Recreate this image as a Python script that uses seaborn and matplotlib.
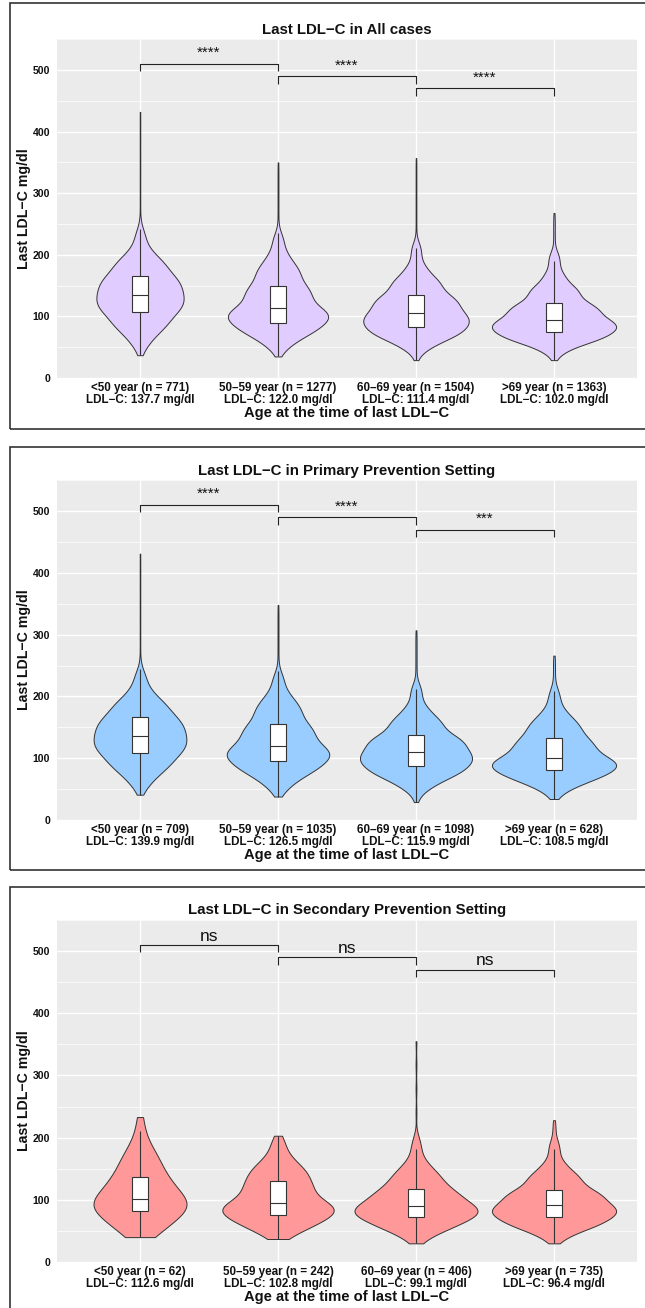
import numpy as np
import pandas as pd
import matplotlib
matplotlib.use("Agg")
import matplotlib.pyplot as plt
from matplotlib.ticker import MultipleLocator
from matplotlib.patches import Rectangle
import seaborn as sns

# ---- data -----------------------------------------------------------------
age_groups = ["<50 year", "50\u201359 year", "60\u201369 year", ">69 year"]
percentiles = [0, 1, 5, 10, 25, 50, 75, 90, 95, 99, 100]

# All cases
all_n = [771, 1277, 1504, 1363]
all_mean = [137.7, 122.0, 111.4, 102.0]
all_pct = [
    [37, 52, 70, 82, 107, 135, 165, 192, 208, 242, 432],
    [35, 48, 62, 72, 90, 113, 150, 183, 202, 235, 350],
    [29, 45, 57, 66, 82, 105, 134, 163, 182, 220, 357],
    [29, 42, 54, 61, 75, 94, 121, 150, 170, 205, 268],
]
all_sig = ["****", "****", "****"]

# Primary prevention
pri_n = [709, 1035, 1098, 628]
pri_mean = [139.9, 126.5, 115.9, 108.5]
pri_pct = [
    [41, 55, 72, 84, 108, 136, 166, 193, 210, 242, 431],
    [38, 50, 65, 76, 95, 119, 155, 188, 205, 238, 348],
    [29, 47, 60, 70, 87, 110, 137, 166, 184, 220, 307],
    [34, 46, 58, 66, 81, 100, 132, 161, 178, 212, 266],
]
pri_sig = ["****", "****", "***"]

# Secondary prevention
sec_n = [62, 242, 406, 735]
sec_mean = [112.6, 102.8, 99.1, 96.4]
sec_pct = [
    [40, 42, 52, 60, 82, 101, 136, 170, 185, 215, 233],
    [37, 42, 52, 60, 76, 95, 130, 155, 170, 195, 203],
    [30, 38, 50, 57, 73, 90, 117, 145, 162, 200, 355],
    [30, 38, 50, 57, 72, 91, 116, 143, 160, 195, 228],
]
sec_sig = ["ns", "ns", "ns"]

comparisons = [(0, 1), (1, 2), (2, 3)]
bracket_y = [510, 490, 470]

panels = [
    ("Last LDL\u2212C in All cases", all_n, all_mean, all_pct, all_sig, "#E0CCFF"),
    ("Last LDL\u2212C in Primary Prevention Setting", pri_n, pri_mean, pri_pct, pri_sig, "#99CCFF"),
    ("Last LDL\u2212C in Secondary Prevention Setting", sec_n, sec_mean, sec_pct, sec_sig, "#FF9999"),
]

# ---- style ----------------------------------------------------------------
sns.set_theme(style="darkgrid")
plt.rcParams["font.family"] = ["Liberation Sans", "DejaVu Sans"]
plt.rcParams["axes.unicode_minus"] = True

W, H = 645, 1308
fig = plt.figure(figsize=(W / 100, H / 100), dpi=100)
fig.patch.set_facecolor("white")

# pixel layout of each panel: (y of value 0, pixels per mg/dl, frame top, frame bottom)
layout = [
    (378, 0.616, 3, 429),
    (820, 0.618, 447, 870),
    (1262, 0.622, 887, 1312),
]
ax_left, ax_right = 57.2, 636.8
ymax = 550
ink = "#111111"
line = "#333333"


def build_frame(n_list, pct_list, labels):
    rows = []
    for lab, n, knots in zip(labels, n_list, pct_list):
        p = np.linspace(0, 100, n)
        vals = np.interp(p, percentiles, knots)
        rows.append(pd.DataFrame({"group": lab, "ldl": vals}))
    return pd.concat(rows, ignore_index=True)


for (title, n_list, mean_list, pct_list, sig, fill), (y0, scale, ftop, fbot) in zip(panels, layout):
    labels = [f"{g} (n = {n})\nLDL\u2212C: {m:.1f} mg/dl" for g, n, m in zip(age_groups, n_list, mean_list)]
    df = build_frame(n_list, pct_list, labels)

    height = ymax * scale
    ax = fig.add_axes([ax_left / W, (H - y0) / H, (ax_right - ax_left) / W, height / H])
    ax.set_facecolor("#EBEBEB")

    # panel frame
    fig.patches.append(Rectangle((10 / W, (H - fbot) / H), (W + 20) / W, (fbot - ftop) / H,
                                 transform=fig.transFigure, fill=False,
                                 edgecolor="#222222", linewidth=1.1, zorder=0))

    sns.violinplot(data=df, x="group", y="ldl", order=labels, color=fill, saturation=1,
                   linecolor=line, linewidth=0.7, inner=None, cut=0,
                   density_norm="area", width=0.9, bw_method="silverman", bw_adjust=0.95,
                   ax=ax)
    sns.boxplot(data=df, x="group", y="ldl", order=labels, color="white", saturation=1,
                linecolor=line, linewidth=0.8, width=0.12, showfliers=False,
                showcaps=False, whis=1.5, ax=ax)

    # significance brackets
    tip = 12
    for (a, b), yb, s in zip(comparisons, bracket_y, sig):
        ax.plot([a, a, b, b], [yb - tip, yb, yb, yb - tip], color="#222222", lw=0.8,
                solid_capstyle="butt", zorder=5)
        if s == "ns":
            ax.text((a + b) / 2, yb + 2, s, ha="center", va="bottom", fontsize=12.5, color=ink)
        else:
            ax.text((a + b) / 2, yb + 6, s, ha="center", va="bottom", fontsize=11, color=ink)

    ax.set_ylim(0, ymax)
    ax.set_xlim(-0.6, 3.6)
    ax.yaxis.set_major_locator(MultipleLocator(100))
    ax.yaxis.set_minor_locator(MultipleLocator(50))
    ax.grid(which="major", axis="both", color="white", linewidth=1.0)
    ax.grid(which="minor", axis="y", color="white", linewidth=0.5)
    ax.grid(which="minor", axis="x", visible=False)
    ax.set_axisbelow(True)
    for sp in ax.spines.values():
        sp.set_visible(False)

    ax.tick_params(axis="both", which="major", length=3, width=0.6, color=line,
                   labelcolor=ink)
    ax.tick_params(axis="y", labelsize=7.6, pad=2)
    ax.tick_params(axis="x", pad=0)
    ax.tick_params(axis="both", which="minor", length=0)
    ax.set_xticks(range(4))
    ax.set_xticklabels(labels, fontweight="bold", fontsize=8.4, linespacing=1.0)
    for t in ax.get_yticklabels():
        t.set_fontweight("bold")

    ax.set_xlabel("Age at the time of last LDL\u2212C", fontsize=10.6, fontweight="bold",
                  color=ink, labelpad=0)
    ax.set_ylabel("Last LDL\u2212C mg/dl", fontsize=10.2, fontweight="bold",
                  color=ink, labelpad=1)
    ax.set_title(title, fontsize=10.8, fontweight="bold", color=ink, pad=4)

fig.savefig("out.png", dpi=100, facecolor="white")
